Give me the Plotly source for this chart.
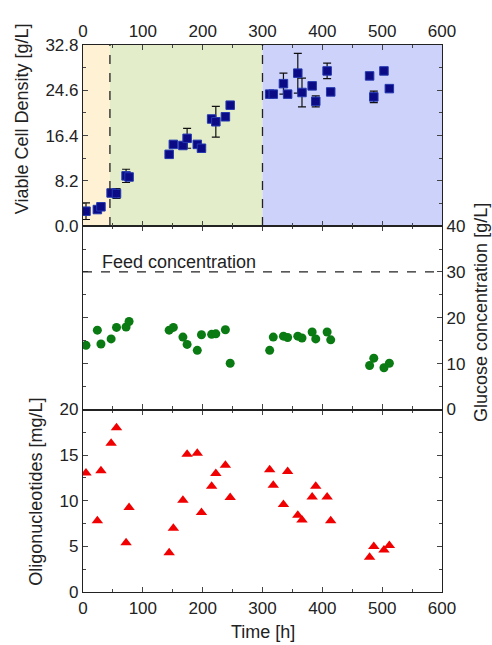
import plotly.graph_objects as go

# ---- data ----
time_h = [5, 24, 30, 47, 56, 72, 77, 144, 151, 167, 174, 191, 198, 215, 222, 238, 246,
          312, 318, 335, 342, 359, 366, 383, 389, 408, 414, 479, 486, 503, 512]
vcd = [2.7, 3.0, 3.5, 6.0, 5.9, 9.1, 8.9, 13.0, 14.8, 14.6, 15.9, 14.8, 14.1, 19.4, 18.9, 19.8, 21.9,
       23.9, 23.9, 25.8, 23.9, 27.7, 24.2, 25.4, 22.6, 28.1, 24.3, 27.2, 23.4, 28.1, 24.9]
vcd_err = [1.5, 0.4, 0.4, 0.5, 0.9, 1.2, 0.5, 0.4, 0.4, 0.5, 1.8, 0.5, 0.4, 0.5, 2.8, 0.4, 0.4,
           0.4, 0.4, 1.9, 0.4, 3.6, 2.6, 0.4, 1.0, 1.4, 0.4, 0.5, 1.05, 0.4, 0.5]
glucose = [14.0, 17.3, 14.3, 15.4, 17.9, 18.0, 19.2, 17.3, 17.9, 15.8, 14.2, 12.9, 16.3, 16.4, 16.5, 17.4, 10.1,
           12.9, 15.8, 16.0, 15.7, 16.0, 15.6, 16.9, 15.4, 16.9, 15.2, 9.6, 11.2, 9.1, 10.1]
oligo = [13.05, 7.8, 13.3, 16.3, 18.0, 5.4, 9.25, 4.3, 7.0, 10.05, 15.1, 15.2, 8.7, 11.6, 13.0, 13.9, 10.35,
         13.4, 11.7, 9.6, 13.2, 8.4, 7.9, 10.4, 11.6, 10.4, 7.8, 3.8, 5.0, 4.6, 5.1]
feed_conc = 30
phase_bounds = [0, 45, 300, 600]
phase_colors = ["#FFF1D4", "#E3EDCA", "#CCD2FA"]
vcd_ticks = [0, 8.2, 16.4, 24.6, 32.8]
vcd_ticklabels = ["0.0", "8.2", "16.4", "24.6", "32.8"]

FONT = "Liberation Sans, Arial, sans-serif"
TXT = "#222222"

fig = go.Figure()

fig.add_trace(go.Scatter(
    x=time_h, y=vcd, mode="markers", xaxis="x3", yaxis="y3",
    marker=dict(symbol="square", size=8.5, color="#0b0b85", line=dict(color="#2538b0", width=1)),
    error_y=dict(type="data", array=vcd_err, visible=True, color="#111111", thickness=1.2, width=4),
    showlegend=False))
fig.add_trace(go.Scatter(
    x=time_h, y=glucose, mode="markers", xaxis="x2", yaxis="y2",
    marker=dict(symbol="circle", size=9, color="#0a7a12"),
    showlegend=False))
fig.add_trace(go.Scatter(
    x=time_h, y=oligo, mode="markers", xaxis="x", yaxis="y",
    marker=dict(symbol="triangle-up", size=10, color="#f00000"),
    showlegend=False))

shapes = []
for i in range(3):
    shapes.append(dict(type="rect", xref="x3", yref="y3 domain",
                       x0=phase_bounds[i], x1=phase_bounds[i + 1], y0=0, y1=1,
                       fillcolor=phase_colors[i], line=dict(width=0), layer="below"))
for xb in phase_bounds[1:3]:
    shapes.append(dict(type="line", xref="x3", yref="y3 domain", x0=xb, x1=xb, y0=0, y1=1,
                       line=dict(color="#222222", width=1.3, dash="dash")))
shapes.append(dict(type="line", xref="x2 domain", yref="y2", x0=0, x1=1, y0=feed_conc, y1=feed_conc,
                   line=dict(color="#222222", width=1.3, dash="dash")))

tickfont = dict(family=FONT, size=17, color=TXT)
common_x = dict(range=[0, 600], dtick=100, ticks="inside", ticklen=5, tickwidth=1,
                showline=True, linecolor="#222222", linewidth=1.2, mirror="ticks",
                showgrid=False, zeroline=False, tickfont=tickfont,
                minor=dict(dtick=50, ticks="inside", ticklen=3, tickwidth=1, showgrid=False))
common_y = dict(ticks="inside", ticklen=5, tickwidth=1,
                showline=True, linecolor="#222222", linewidth=1.2, mirror="ticks",
                showgrid=False, zeroline=False, tickfont=tickfont)

d1 = 0.3336
d2 = 0.6689

fig.update_layout(
    width=492, height=645,
    margin=dict(l=83, r=50, t=45, b=53),
    plot_bgcolor="white", paper_bgcolor="white",
    font=dict(family=FONT, size=17, color=TXT),
    shapes=shapes,
    xaxis=dict(domain=[0, 1], anchor="y", showticklabels=True, **common_x),
    xaxis2=dict(domain=[0, 1], anchor="y2", matches="x", showticklabels=False, **common_x),
    xaxis3=dict(domain=[0, 1], anchor="y3", matches="x", side="top", showticklabels=True, **common_x),
    yaxis=dict(domain=[0, d1], anchor="x", range=[0, 20], dtick=5,
               minor=dict(dtick=2.5, ticks="inside", ticklen=3, tickwidth=1, showgrid=False), **common_y),
    yaxis2=dict(domain=[d1, d2], anchor="x2", range=[0, 40], dtick=10, side="right",
                minor=dict(dtick=5, ticks="inside", ticklen=3, tickwidth=1, showgrid=False), **common_y),
    yaxis3=dict(domain=[d2, 1], anchor="x3", range=[0, 32.8], tickvals=vcd_ticks, ticktext=vcd_ticklabels,
                minor=dict(tickvals=[4.1, 12.3, 20.5, 28.7], ticks="inside", ticklen=3, tickwidth=1,
                           showgrid=False), **common_y),
)

ann = [
    dict(text="Viable Cell Density [g/L]", x=-0.17, y=0.866, textangle=-90),
    dict(text="Oligonucleotides [mg/L]", x=-0.13, y=0.184, textangle=-90),
    dict(text="Glucose concentration [g/L]", x=1.11, y=0.511, textangle=-90),
    dict(text="Time [h]", x=0.501, y=-0.074, textangle=0),
]
for a in ann:
    fig.add_annotation(xref="paper", yref="paper", xanchor="center", yanchor="middle",
                       showarrow=False, font=dict(family=FONT, size=18, color=TXT), **a)
fig.add_annotation(xref="x2", yref="y2", x=29, y=32.1, text="Feed concentration",
                   xanchor="left", yanchor="middle", showarrow=False,
                   font=dict(family=FONT, size=18, color=TXT))

fig.write_html("out.html")
